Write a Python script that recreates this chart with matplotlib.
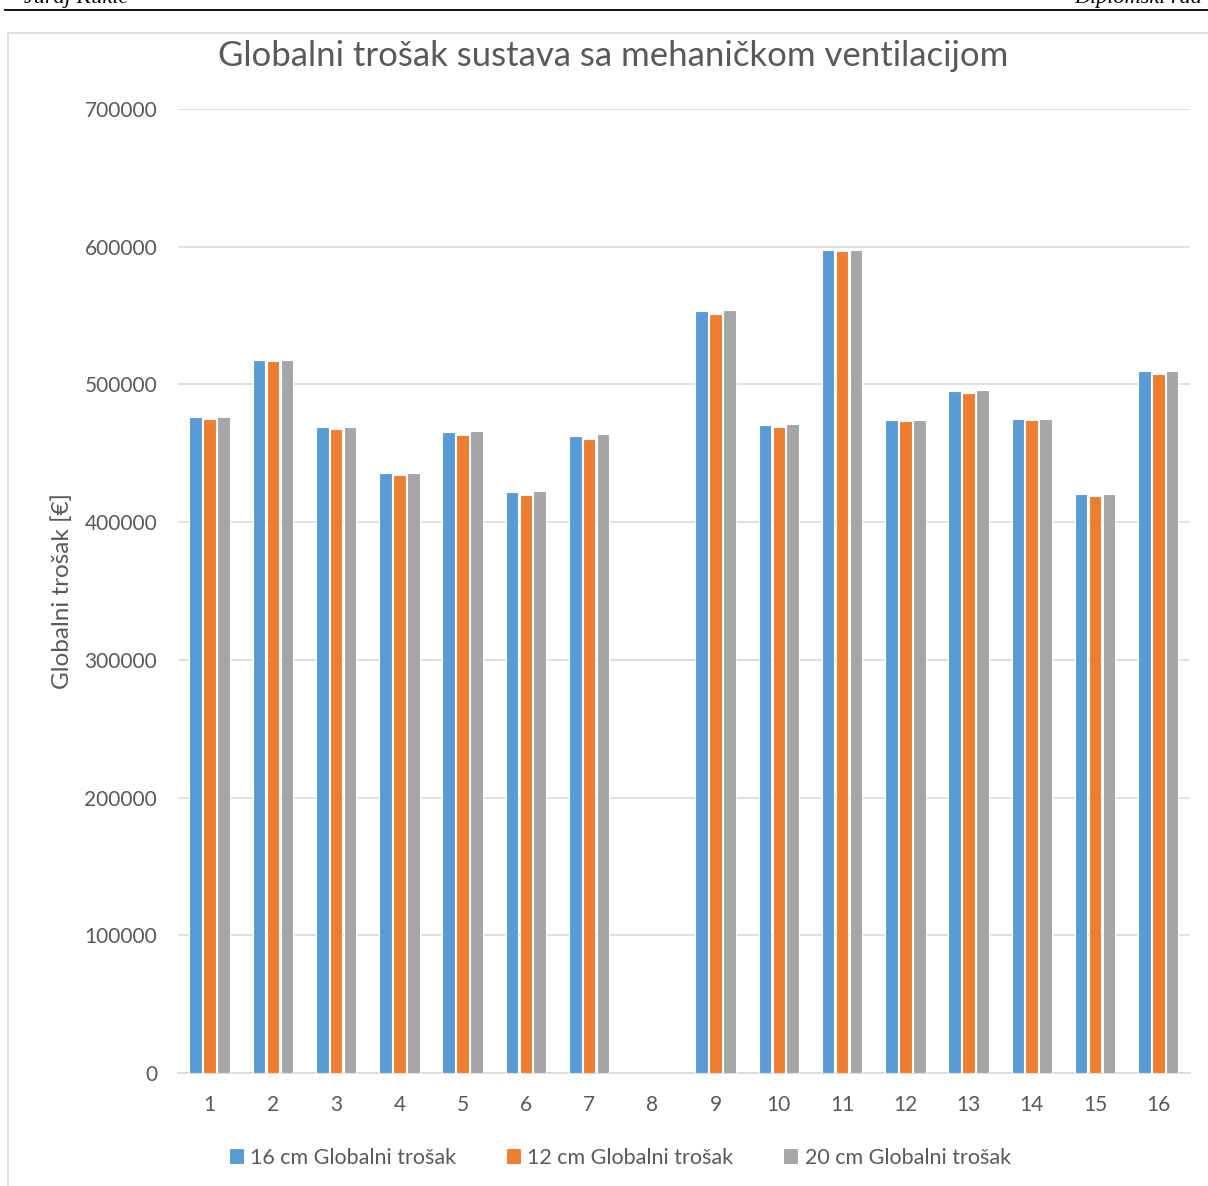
import numpy as np
import matplotlib.pyplot as plt
from matplotlib.patches import Rectangle

# data (8 has no values)
categories = [str(i) for i in range(1, 17)]
cost_16cm = [476400, 517800, 469100, 435500, 465500, 421900, 462600, np.nan,
             553300, 470600, 597600, 474200, 495500, 474900, 420400, 509500]
cost_12cm = [474900, 517000, 467400, 434000, 463100, 419700, 460400, np.nan,
             551400, 469300, 597100, 473500, 494000, 474000, 419200, 507600]
cost_20cm = [476600, 517800, 469300, 435700, 466200, 422600, 464000, np.nan,
             553800, 471000, 597400, 474400, 496000, 475200, 420400, 509800]
series_names = ["16 cm Globalni trošak", "12 cm Globalni trošak", "20 cm Globalni trošak"]
colors = ["#5B9BD5", "#ED7D31", "#A5A5A5"]
yticks = [0, 100000, 200000, 300000, 400000, 500000, 600000, 700000]

plt.rcParams['font.family'] = ['Lato', 'DejaVu Sans']
txt = "#595959"

fig = plt.figure(figsize=(12.08, 11.86), dpi=100)
ax = fig.add_axes([0.1474, 0.0953, 0.8376, 0.8128])

x = np.arange(len(categories))
w = 0.2
step = 0.22
for i, (vals, name, c) in enumerate(zip([cost_16cm, cost_12cm, cost_20cm], series_names, colors)):
    ax.bar(x + (i - 1) * step, vals, width=w, color=c, edgecolor="white",
           linewidth=0.8, label=name, zorder=3)

ax.set_xlim(-0.5, len(categories) - 0.5)
ax.set_ylim(0, 700000)
ax.set_yticks(yticks)
ax.set_yticklabels([str(v) for v in yticks])
ax.set_xticks(x)
ax.set_xticklabels(categories)
ax.tick_params(axis="both", length=0, labelsize=15, colors=txt)
ax.tick_params(axis="y", pad=15)
ax.tick_params(axis="x", pad=16)
ax.grid(axis="y", color="#D9D9D9", linewidth=1.2, zorder=0)
for s in ["top", "right", "left"]:
    ax.spines[s].set_visible(False)
ax.spines["bottom"].set_color("#D9D9D9")
ax.spines["bottom"].set_linewidth(1.2)

ax.set_ylabel("Globalni trošak [€]", fontsize=17.5, color=txt, labelpad=8)
fig.text(0.508, 0.953, "Globalni trošak sustava sa mehaničkom ventilacijom",
         ha="center", va="center", fontsize=25, color=txt)

leg = fig.legend(loc="center", bbox_to_anchor=(0.513, 0.024), ncol=3, frameon=False,
                 fontsize=15.5, handlelength=0.7, handleheight=0.7, columnspacing=2.3,
                 handletextpad=0.3)
for t in leg.get_texts():
    t.set_color(txt)

# page header cut off at the top and chart frame
fig.add_artist(plt.Line2D([0.004, 1.0], [0.9915, 0.9915], color="black", linewidth=1.3))
fig.add_artist(Rectangle((0.0066, -0.01), 1.1, 0.9935 - 0.011, fill=False,
                         edgecolor="#D9D9D9", linewidth=1.2))
fig.text(0.02, 0.993, "Juraj Kukić", fontsize=16, style="italic",
         family="Liberation Serif", va="bottom")
fig.text(0.995, 0.993, "Diplomski rad", fontsize=16, style="italic",
         family="Liberation Serif", va="bottom", ha="right")

fig.savefig("out.png", dpi=100)
